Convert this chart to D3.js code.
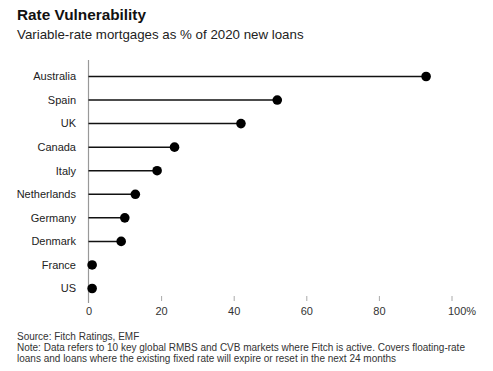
<!DOCTYPE html>
<html>
<head>
<meta charset="utf-8">
<script src="https://cdn.jsdelivr.net/npm/d3@7.9.0/dist/d3.min.js"></script>
<style>
  body { margin: 0; background: #fff; }
  svg text { font-family: "Liberation Sans", Arial, sans-serif; }
</style>
</head>
<body>
<div id="chart"></div>
<script>
const countries = ['Australia', 'Spain', 'UK', 'Canada', 'Italy', 'Netherlands', 'Germany', 'Denmark', 'France', 'US'];
const shares = [93, 52, 42, 23.7, 18.9, 12.9, 10, 9, 1, 1];
const xTicks = [0, 20, 40, 60, 80, 100];

const title = 'Rate Vulnerability';
const subtitle = 'Variable-rate mortgages as % of 2020 new loans';
const notes = [
  'Source: Fitch Ratings, EMF',
  'Note: Data refers to 10 key global RMBS and CVB markets where Fitch is active. Covers floating-rate',
  'loans and loans where the existing fixed rate will expire or reset in the next 24 months'
];

const width = 493, height = 371;
const svg = d3.select('#chart').append('svg')
  .attr('width', width).attr('height', height);

svg.append('text').attr('x', 17).attr('y', 20)
  .style('font-size', '14px').style('font-weight', 'bold').attr('fill', '#111')
  .attr('textLength', 129).attr('lengthAdjust', 'spacingAndGlyphs')
  .text(title);
svg.append('text').attr('x', 17).attr('y', 39)
  .style('font-size', '13.3px').attr('fill', '#222')
  .text(subtitle);

const data = countries.map((c, i) => ({ country: c, value: shares[i] }));

const xScale = d3.scaleLinear().domain([0, 100]).range([88.5, 451.5]);
const yScale = d3.scalePoint().domain(countries).range([76.5, 288.5]);

// vertical baseline
svg.append('line')
  .attr('x1', xScale(0)).attr('x2', xScale(0))
  .attr('y1', 60).attr('y2', 303)
  .attr('stroke', '#999').attr('stroke-width', 1.2);

// x axis ticks
const xAxis = svg.append('g').attr('transform', 'translate(0, 296)')
  .call(d3.axisBottom(xScale).tickValues(xTicks).tickSize(5).tickPadding(6)
    .tickFormat(d => d === 100 ? '100%' : d));
xAxis.select('.domain').remove();
xAxis.selectAll('.tick line').attr('stroke', '#aaa');
xAxis.selectAll('.tick text')
  .style('font-size', '11px').attr('fill', '#333')
  .filter(d => d === 100).attr('text-anchor', 'start').attr('dx', -4);
xAxis.selectAll('.tick').filter(d => d === 0).select('line').remove();

// country labels
svg.append('g').selectAll('text')
  .data(data).join('text')
  .attr('x', 76).attr('y', d => yScale(d.country))
  .attr('dy', '0.35em').attr('text-anchor', 'end')
  .style('font-size', '11px').attr('fill', '#222')
  .text(d => d.country);

// stems
svg.append('g').selectAll('line')
  .data(data).join('line')
  .attr('x1', xScale(0)).attr('x2', d => xScale(d.value))
  .attr('y1', d => yScale(d.country)).attr('y2', d => yScale(d.country))
  .attr('stroke', '#111').attr('stroke-width', 1.5);

// dots
svg.append('g').selectAll('circle')
  .data(data).join('circle')
  .attr('cx', d => xScale(d.value)).attr('cy', d => yScale(d.country))
  .attr('r', 4.8).attr('fill', '#000');

// footnotes
svg.append('g').selectAll('text')
  .data(notes).join('text')
  .attr('x', 17).attr('y', (d, i) => 340 + i * 11)
  .style('font-size', '10px').attr('fill', '#333')
  .text(d => d);
</script>
</body>
</html>
